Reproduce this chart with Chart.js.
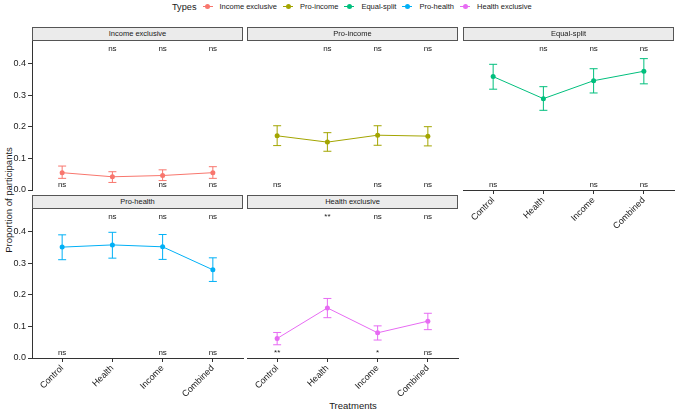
<!DOCTYPE html>
<html>
<head>
<meta charset="utf-8">
<script src="https://cdn.jsdelivr.net/npm/chart.js@4.4.0/dist/chart.umd.min.js"></script>
<style>
body { margin: 0; background: #fff; }
#wrap { position: relative; width: 677px; height: 412px; overflow: hidden; background: #fff;
  font-family: 'Liberation Sans', Arial, sans-serif; color: #1a1a1a; }
canvas { position: absolute; }
.strip { position: absolute; box-sizing: border-box; background: #ebebeb; border: 1px solid #555;
  font-size: 7.5px; text-align: center; line-height: 12px; z-index: 2; }
#legend { position: absolute; left: 172px; top: 0; height: 13px; display: flex; align-items: center;
  font-size: 7.5px; white-space: nowrap; }
#legend .title { font-size: 9.2px; margin-right: 6px; }
#legend .key { position: relative; width: 10px; height: 1.5px; margin-right: 7px; }
#legend .key i { position: absolute; left: 2.5px; top: -1.75px; width: 5px; height: 5px; border-radius: 50%; background: inherit; }
#legend .lab { margin-right: 6px; }
#ytitle { position: absolute; left: 8px; top: 200px; transform: translate(-50%, -50%) rotate(-90deg);
  font-size: 9.5px; white-space: nowrap; }
#xtitle { position: absolute; left: 353px; top: 405px; transform: translate(-50%, -50%);
  font-size: 9.5px; white-space: nowrap; }
</style>
</head>
<body>
<div id="wrap">
  <div id="legend"></div>
  <div id="ytitle">Proportion of participants</div>
  <div id="xtitle">Treatments</div>
</div>
<script>
// categories and series
const treatments = ["Control", "Health", "Income", "Combined"];
const types = ["Income exclusive", "Pro-income", "Equal-split", "Pro-health", "Health exclusive"];
const colors = ["#F8766D", "#A3A500", "#00BF7D", "#00B0F6", "#E76BF3"];
const yTicks = [0, 0.1, 0.2, 0.3, 0.4];

const incomeExclusive     = [0.055, 0.042, 0.046, 0.055];
const incomeExclusiveLow  = [0.037, 0.024, 0.030, 0.037];
const incomeExclusiveHigh = [0.076, 0.058, 0.064, 0.074];

const proIncome     = [0.172, 0.152, 0.174, 0.171];
const proIncomeLow  = [0.141, 0.123, 0.142, 0.140];
const proIncomeHigh = [0.204, 0.182, 0.204, 0.201];

const equalSplit     = [0.360, 0.290, 0.347, 0.377];
const equalSplitLow  = [0.320, 0.253, 0.308, 0.337];
const equalSplitHigh = [0.399, 0.328, 0.385, 0.417];

const proHealth     = [0.352, 0.359, 0.353, 0.280];
const proHealthLow  = [0.312, 0.317, 0.313, 0.243];
const proHealthHigh = [0.391, 0.399, 0.392, 0.318];

const healthExclusive     = [0.062, 0.159, 0.080, 0.117];
const healthExclusiveLow  = [0.042, 0.128, 0.057, 0.090];
const healthExclusiveHigh = [0.081, 0.189, 0.102, 0.142];

// significance labels (top row of each panel / bottom row)
const sigTopDefault    = ["", "ns", "ns", "ns"];
const sigBottomDefault = ["ns", "", "ns", "ns"];
const sigTopHealthEx    = ["", "**", "ns", "ns"];
const sigBottomHealthEx = ["**", "", "*", "ns"];

const Y_MAX = 0.473;
const SIG_TOP_Y = 0.448;
const SIG_BOTTOM_Y = 0.018;
const FONT = "'Liberation Sans', Arial, sans-serif";

const panels = [
  { name: types[0], color: colors[0], vals: incomeExclusive, low: incomeExclusiveLow, high: incomeExclusiveHigh, top: sigTopDefault, bottom: sigBottomDefault, col: 0, row: 0, hasX: false },
  { name: types[1], color: colors[1], vals: proIncome, low: proIncomeLow, high: proIncomeHigh, top: sigTopDefault, bottom: sigBottomDefault, col: 1, row: 0, hasX: false },
  { name: types[2], color: colors[2], vals: equalSplit, low: equalSplitLow, high: equalSplitHigh, top: sigTopDefault, bottom: sigBottomDefault, col: 2, row: 0, hasX: true },
  { name: types[3], color: colors[3], vals: proHealth, low: proHealthLow, high: proHealthHigh, top: sigTopDefault, bottom: sigBottomDefault, col: 0, row: 1, hasX: true },
  { name: types[4], color: colors[4], vals: healthExclusive, low: healthExclusiveLow, high: healthExclusiveHigh, top: sigTopHealthEx, bottom: sigBottomHealthEx, col: 1, row: 1, hasX: true },
];

// layout of facets
const colLeft = [32, 247, 463];
const panelW = 211;
const rowTop = [41, 209];
const panelH = 149;
const stripH = 14;
const wrap = document.getElementById("wrap");

// legend
const legend = document.getElementById("legend");
legend.innerHTML = '<span class="title">Types</span>' + types.map(function(t, i){
  return '<span class="key" style="background:' + colors[i] + '"><i></i></span><span class="lab">' + t + '</span>';
}).join("");

function extras(p){
  return {
    id: "extras",
    beforeDatasetsDraw: function(chart){
      const ctx = chart.ctx, x = chart.scales.x, y = chart.scales.y;
      ctx.save();
      ctx.strokeStyle = p.color;
      ctx.lineWidth = 1;
      p.low.forEach(function(lo, i){
        const px = x.getPixelForValue(i);
        const y1 = y.getPixelForValue(lo), y2 = y.getPixelForValue(p.high[i]);
        ctx.beginPath();
        ctx.moveTo(px, y1); ctx.lineTo(px, y2);
        ctx.moveTo(px - 4, y1); ctx.lineTo(px + 4, y1);
        ctx.moveTo(px - 4, y2); ctx.lineTo(px + 4, y2);
        ctx.stroke();
      });
      ctx.restore();
    },
    afterDraw: function(chart){
      const ctx = chart.ctx, x = chart.scales.x, y = chart.scales.y;
      ctx.save();
      ctx.fillStyle = "#1a1a1a";
      ctx.font = "8px " + FONT;
      ctx.textAlign = "center";
      ctx.textBaseline = "middle";
      treatments.forEach(function(t, i){
        const px = x.getPixelForValue(i);
        if (p.top[i]) ctx.fillText(p.top[i], px, y.getPixelForValue(SIG_TOP_Y));
        if (p.bottom[i]) ctx.fillText(p.bottom[i], px, y.getPixelForValue(SIG_BOTTOM_Y));
      });
      ctx.restore();
    }
  };
}

panels.forEach(function(p){
  const hasY = p.col === 0;
  const yW = hasY ? 32 : 0;
  const padL = hasY ? 0 : 15, padR = 15, padT = 8;
  const padB = p.hasX ? 0 : 8;
  const xH = p.hasX ? 45 : 0;
  const left = colLeft[p.col], top = rowTop[p.row];

  const strip = document.createElement("div");
  strip.className = "strip";
  strip.style.left = left + "px";
  strip.style.top = (top - stripH) + "px";
  strip.style.width = panelW + "px";
  strip.style.height = stripH + "px";
  strip.textContent = p.name;
  wrap.appendChild(strip);

  const cv = document.createElement("canvas");
  const w = panelW + yW + padL + padR, h = panelH + padT + padB + xH;
  cv.width = w; cv.height = h;
  cv.style.width = w + "px"; cv.style.height = h + "px";
  cv.style.left = (left - yW - padL) + "px";
  cv.style.top = (top - padT) + "px";
  wrap.appendChild(cv);

  new Chart(cv, {
    type: "line",
    data: {
      datasets: [{
        label: p.name,
        data: p.vals.map(function(v, i){ return { x: i, y: v }; }),
        borderColor: p.color,
        backgroundColor: p.color,
        borderWidth: 1,
        pointRadius: 2.5,
        pointBorderWidth: 0,
        tension: 0,
      }]
    },
    options: {
      responsive: false,
      animation: false,
      layout: { padding: { left: padL, right: padR, top: padT, bottom: padB } },
      plugins: { legend: { display: false }, tooltip: { enabled: false } },
      scales: {
        x: {
          type: "linear",
          display: p.hasX,
          min: -0.6, max: 3.6,
          afterBuildTicks: function(s){ s.ticks = treatments.map(function(t, i){ return { value: i }; }); },
          afterFit: function(s){ s.height = xH; },
          grid: { drawOnChartArea: false, drawTicks: true, tickLength: 4, color: "#333" },
          border: { display: true, color: "#333", width: 1 },
          ticks: {
            minRotation: 45, maxRotation: 45, padding: 1,
            color: "#1a1a1a", font: { family: FONT, size: 9 },
            callback: function(v){ return treatments[v]; }
          }
        },
        y: {
          display: hasY,
          min: 0, max: Y_MAX,
          afterBuildTicks: function(s){ s.ticks = yTicks.map(function(v){ return { value: v }; }); },
          afterFit: function(s){ s.width = yW; },
          grid: { drawOnChartArea: false, drawTicks: true, tickLength: 4, color: "#333" },
          border: { display: true, color: "#333", width: 1 },
          ticks: {
            padding: 2, color: "#1a1a1a", font: { family: FONT, size: 9 },
            callback: function(v){ return v.toFixed(1); }
          }
        }
      }
    },
    plugins: [extras(p)]
  });
});
</script>
</body>
</html>
